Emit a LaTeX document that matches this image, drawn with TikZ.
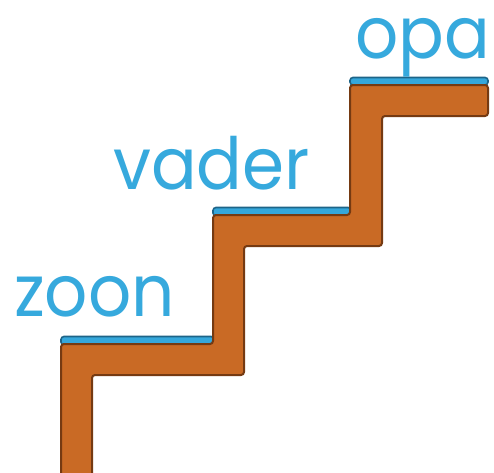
\documentclass[tikz,border=0pt]{standalone}
\usepackage{fontspec}
\setmainfont{Poppins}
\definecolor{stairfill}{HTML}{C96A25}
\definecolor{stairline}{HTML}{753A12}
\definecolor{capfill}{HTML}{35A7DB}
\definecolor{capline}{HTML}{1D6488}
\definecolor{wordblue}{HTML}{36A9DD}
\newcommand{\wordbox}[1]{\scalebox{0.94}[1]{#1}}
\begin{document}
\begin{tikzpicture}[x=1pt,y=-1pt,
  word/.style={anchor=base west,inner sep=0pt,text=wordblue,font=\fontsize{72}{72}\selectfont},
  bluecap/.style={fill=capfill,draw=capline,line width=1.6pt,rounded corners=3pt},
  stair/.style={fill=stairfill,draw=stairline,line width=2pt,rounded corners=3pt}]
\useasboundingbox (0,0) rectangle (494,472);
\clip (0,0) rectangle (494,472);
% blue caps
\draw[bluecap] (61,345) -- (61,336.5) -- (214,336.5) -- (214,345) -- cycle;
\draw[bluecap] (213,216) -- (213,207.5) -- (351,207.5) -- (351,216) -- cycle;
\draw[bluecap] (350,85) -- (350,77.5) -- (488,77.5) -- (488,85) -- cycle;
% stairs
\draw[stair] (61,480) -- (61,344) -- (213,344) -- (213,215) -- (350,215) -- (350,85)
  -- (488,85) -- (488,116) -- (382,116) -- (382,246) -- (244,246) -- (244,375)
  -- (92,375) -- (92,480);
% words
\node[word] (zoon) at (14,316) {\wordbox{zoon}};
\node[word] (vader) at (113,189) {\wordbox{vader}};
\node[word] (opa) at (355,58) {\wordbox{opa}};
\end{tikzpicture}
\end{document}
